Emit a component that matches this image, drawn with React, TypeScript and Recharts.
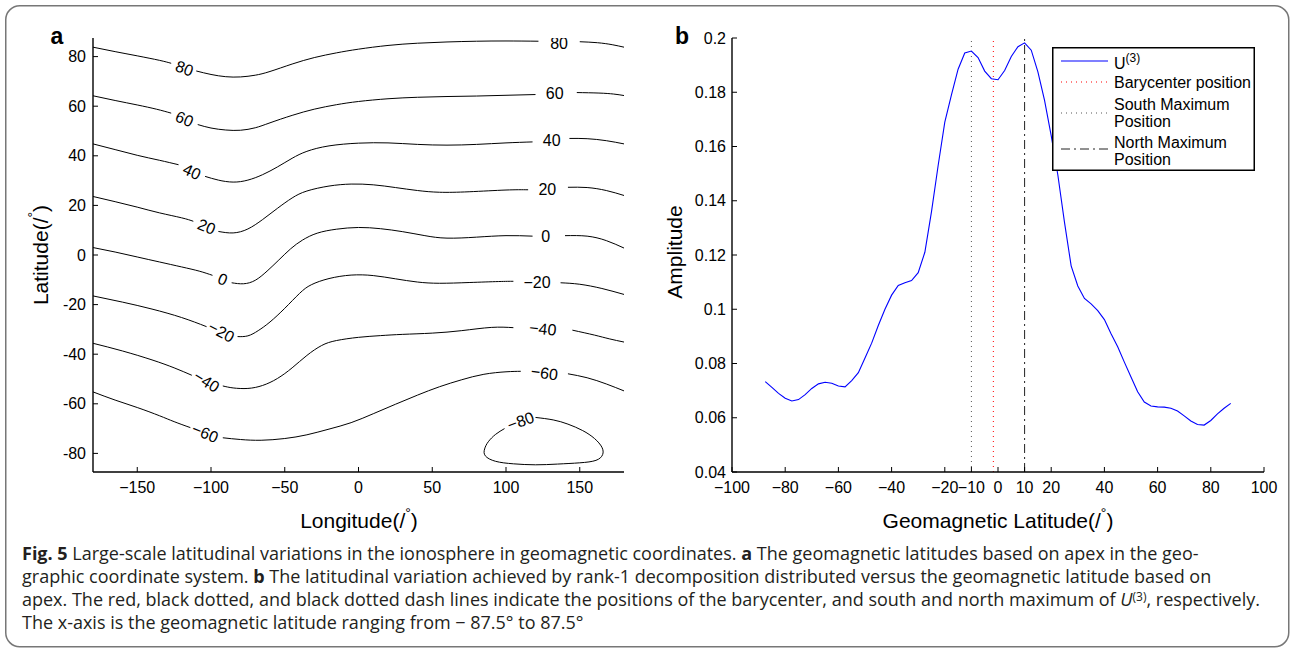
import React from "react";
import {
  ComposedChart, LineChart, Line, Scatter, XAxis, YAxis, ReferenceLine, Legend
} from "recharts";

const FONT = '"Liberation Sans", Arial, Helvetica, sans-serif';
const CAPTION_FONT = '"Open Sans", "Noto Sans", sans-serif';

// ---- panel a: apex geomagnetic latitude contours (lon, lat); null = gap for the label
type Pt = [number, number | null];

const lonTicks = [-150, -100, -50, 0, 50, 100, 150];
const latTicks = [-80, -60, -40, -20, 0, 20, 40, 60, 80];

const contour80: Pt[] = [
  [-180, 83.8], [-165, 82], [-150, 80.3], [-135, 78.5], [-127, 77.3], [-118, null],
  [-110, 74.2], [-100, 72.8], [-90, 71.9], [-80, 71.8], [-70, 72.5], [-60, 74], [-45, 77],
  [-30, 79.6], [-15, 81.5], [0, 83], [20, 84.5], [40, 85.4], [60, 85.9], [80, 86.2],
  [100, 86.3], [122, 86.2], [136, null], [150, 86], [162, 85.6], [172, 84.8], [180, 83.8],
];
const contour60: Pt[] = [
  [-180, 64.2], [-165, 62.3], [-150, 60.5], [-137, 58.8], [-127, 57.2], [-118, null],
  [-109, 52.6], [-100, 51.2], [-90, 50.4], [-80, 50.3], [-70, 51.3], [-60, 53.3], [-45, 56.3],
  [-30, 58.8], [-15, 60.6], [0, 61.9], [20, 63], [40, 63.6], [60, 63.9], [80, 64.1],
  [100, 64.4], [120, 64.7], [133, null], [148, 65.5], [163, 65.3], [173, 64.9], [180, 64.3],
];
const contour40: Pt[] = [
  [-180, 44.8], [-165, 42.5], [-150, 40.2], [-135, 38.2], [-122, 36.4], [-113, null],
  [-104, 31.7], [-95, 30.2], [-85, 29.4], [-75, 30.2], [-65, 32.4], [-55, 35.5], [-45, 39],
  [-35, 41.8], [-20, 44], [0, 45.1], [20, 45.2], [40, 44.6], [60, 44.3], [80, 44.6],
  [100, 45.2], [118, 45.6], [131, null], [143, 47], [155, 46.9], [168, 46.1], [180, 44.8],
];
const contour20: Pt[] = [
  [-180, 23.6], [-165, 21.5], [-150, 19.3], [-135, 17], [-120, 15], [-112, 13.6], [-103, null],
  [-95, 9.5], [-85, 8.9], [-75, 10.5], [-65, 14.3], [-55, 18.8], [-45, 23], [-35, 25.8],
  [-20, 27.8], [-5, 28.6], [10, 28.3], [25, 27.2], [40, 26], [55, 25.3], [75, 25.5],
  [100, 26.2], [115, 26.3], [128, null], [142, 27.3], [155, 27.2], [168, 26], [180, 24],
];
const contour0: Pt[] = [
  [-180, 3], [-165, 1.2], [-150, -0.8], [-135, -2.8], [-120, -4.8], [-108, -6.5], [-99, -8.2],
  [-92, null], [-86, -11.2], [-78, -11.6], [-70, -10.2], [-62, -6.5], [-54, -2], [-46, 2.5],
  [-38, 6], [-28, 8.8], [-15, 10.4], [0, 11.1], [15, 10.6], [30, 9.4], [45, 7.8], [60, 6.8],
  [80, 7.2], [100, 7.8], [118, 7.6], [127, null], [140, 7.8], [155, 7.6], [168, 5.8], [180, 2.8],
];
const contourM20: Pt[] = [
  [-180, -16.5], [-160, -19], [-140, -21.8], [-120, -25.2], [-103, -28.9], [-93, null],
  [-82, -32.9], [-75, -32.6], [-68, -30.5], [-60, -27], [-50, -21.5], [-40, -15.5], [-32, -12],
  [-20, -9.5], [-5, -8.1], [10, -8.3], [25, -9.6], [40, -10.9], [55, -11.4], [75, -11.1],
  [95, -10.7], [105, -10.6], [121, null], [137, -11.2], [150, -11.8], [165, -13.5], [180, -15.9],
];
const contourM40: Pt[] = [
  [-180, -35.6], [-160, -38.7], [-140, -42.3], [-125, -45.5], [-113, -48.5], [-103, null],
  [-92, -52.8], [-85, -53.6], [-75, -53.8], [-65, -52.6], [-55, -49.8], [-45, -45.5],
  [-35, -40.5], [-25, -36.5], [-15, -34.5], [0, -33.2], [15, -32.5], [30, -32], [50, -31.5],
  [70, -30.5], [90, -29.2], [105, -29.3], [125, null], [145, -30.3], [160, -32.3], [170, -33.8],
  [180, -35.1],
];
const contourM60: Pt[] = [
  [-180, -55.2], [-165, -58.5], [-150, -61.5], [-135, -64.8], [-125, -67.2], [-114, -69.6],
  [-104, null], [-92, -73.7], [-80, -74.4], [-66, -74.7], [-50, -74], [-35, -72.5], [-20, -70.2],
  [-5, -67.6], [10, -64], [25, -60.2], [40, -56.5], [55, -53.1], [70, -50.3], [85, -48.1],
  [100, -47.1], [110, -46.9], [126, null], [142, -47.9], [155, -49.5], [168, -52], [180, -54.8],
];
// closed loop south of Australia, drawn clockwise from just right of its label
const contourM80: Pt[] = [
  [120, -65.5], [132, -66.5], [142, -68.2], [152, -70.8], [160, -74], [165, -77.5],
  [165.5, -80.5], [161, -82.8], [150, -83.8], [135, -84.3], [120, -84.6], [105, -84.2],
  [93, -83.2], [86, -81], [85.5, -78.2], [88, -75.3], [93, -72.3], [99, -70],
];

const contours = [contour80, contour60, contour40, contour20, contour0,
  contourM20, contourM40, contourM60, contourM80];

const contourLabels = [
  { x: -118, y: 75.2, text: "80", angle: 20 }, { x: 136, y: 85.2, text: "80", angle: 0 },
  { x: -118, y: 54.8, text: "60", angle: 24 }, { x: 133, y: 65.2, text: "60", angle: 0 },
  { x: -113, y: 33.6, text: "40", angle: 25 }, { x: 131, y: 46, text: "40", angle: 0 },
  { x: -103, y: 11.4, text: "20", angle: 22 }, { x: 128, y: 26.6, text: "20", angle: 0 },
  { x: -92, y: -9.8, text: "0", angle: 22 }, { x: 127, y: 7.4, text: "0", angle: 0 },
  { x: -93, y: -31, text: "\u221220", angle: 28 }, { x: 121, y: -11.2, text: "\u221220", angle: 0 },
  { x: -103, y: -51, text: "\u221240", angle: 32 }, { x: 125, y: -29.8, text: "\u221240", angle: 6 },
  { x: -104, y: -71.8, text: "\u221260", angle: 22 }, { x: 126, y: -47.6, text: "\u221260", angle: 8 },
  { x: 110, y: -67, text: "\u221280", angle: -20 },
];

// ---- panel b: U(3) amplitude vs geomagnetic latitude
const geoLat = [
  -87.5, -85, -82.5, -80, -77.5, -75, -72.5, -70, -67.5, -65, -62.5, -60, -57.5, -55, -52.5, -50,
  -47.5, -45, -42.5, -40, -37.5, -35, -32.5, -30, -27.5, -25, -22.5, -20, -17.5, -15, -12.5, -10,
  -7.5, -5, -2.5, 0, 2.5, 5, 7.5, 10, 12.5, 15, 17.5, 20, 22.5, 25, 27.5, 30, 32.5, 35, 37.5, 40,
  42.5, 45, 47.5, 50, 52.5, 55, 57.5, 60, 62.5, 65, 67.5, 70, 72.5, 75, 77.5, 80, 82.5, 85, 87.5,
];
const amplitude = [
  0.0733, 0.0712, 0.069, 0.0672, 0.0662, 0.0667, 0.0685, 0.0708, 0.0725, 0.0731, 0.0727, 0.0717,
  0.0714, 0.0737, 0.0766, 0.082, 0.0875, 0.094, 0.1, 0.1052, 0.1088, 0.1098, 0.1106, 0.1135,
  0.121, 0.136, 0.153, 0.169, 0.179, 0.1885, 0.1945, 0.1952, 0.1928, 0.1878, 0.185, 0.1846,
  0.188, 0.1932, 0.1968, 0.1982, 0.1955, 0.1875, 0.177, 0.164, 0.1495, 0.132, 0.116, 0.1086,
  0.104, 0.102, 0.0995, 0.0962, 0.091, 0.0862, 0.0805, 0.075, 0.0696, 0.0658, 0.0643, 0.064,
  0.0639, 0.0635, 0.0625, 0.0607, 0.0588, 0.0575, 0.0573, 0.059, 0.0614, 0.0635, 0.0653,
];
const geoTicks = [-100, -80, -60, -40, -20, -10, 0, 10, 20, 40, 60, 80, 100];
const ampTicks = [0.04, 0.06, 0.08, 0.1, 0.12, 0.14, 0.16, 0.18, 0.2];
const southMax = -10;
const barycenter = -1.75;
const northMax = 10;

const rowsB = geoLat.map((lat, i) => ({ lat, amp: amplitude[i] }));

const minus = (v: number) => String(v).replace("-", "\u2212");
const axisLine = { stroke: "#000", strokeWidth: 1.4 };
const tickLine = { stroke: "#000", strokeWidth: 1 };
const tickFont = { fontSize: 16, fill: "#000", fontFamily: FONT };

function ContourLabel(props: any) {
  const { cx, cy, payload } = props;
  if (cx == null || cy == null) return null;
  return (
    <text x={cx} y={cy} transform={`rotate(${payload.angle} ${cx} ${cy})`}
      textAnchor="middle" dominantBaseline="central"
      fontFamily={FONT} fontSize={16} fill="#000">
      {payload.text}
    </text>
  );
}

function PanelA() {
  return (
    <ComposedChart width={640} height={540} margin={{ top: 38, right: 16, bottom: 38, left: 43 }}>
      <XAxis xAxisId="b" type="number" dataKey="x" domain={[-180, 180]} ticks={lonTicks}
        interval={0} allowDataOverflow tickSize={-5} tickMargin={15} height={30}
        tickFormatter={minus} tick={tickFont} axisLine={axisLine} tickLine={tickLine} />
      <XAxis xAxisId="t" orientation="top" type="number" domain={[-180, 180]} ticks={lonTicks}
        interval={0} allowDataOverflow tickSize={-5} height={0} tick={false}
        axisLine={axisLine} tickLine={tickLine} />
      <YAxis yAxisId="l" type="number" dataKey="y" domain={[-87.5, 87.5]} ticks={latTicks}
        interval={0} allowDataOverflow tickSize={-5} tickMargin={12} width={50}
        tick={tickFont} axisLine={axisLine} tickLine={tickLine} />
      <YAxis yAxisId="r" orientation="right" type="number" domain={[-87.5, 87.5]} ticks={latTicks}
        interval={0} allowDataOverflow tickSize={-5} width={0} tick={false}
        axisLine={axisLine} tickLine={tickLine} />
      {contours.map((c, i) => (
        <Line key={i} xAxisId="b" yAxisId="l"
          data={c.map(([x, y]) => ({ x, y }))} dataKey="y" type="natural"
          stroke="#000" strokeWidth={1} dot={false} activeDot={false}
          connectNulls={false} isAnimationActive={false} />
      ))}
      <Scatter xAxisId="b" yAxisId="l" data={contourLabels} dataKey="y"
        shape={<ContourLabel />} isAnimationActive={false} />
    </ComposedChart>
  );
}

function LegendBox() {
  const t = { fontFamily: FONT, fontSize: 16, fill: "#000" };
  return (
    <svg width={203} height={124} style={{ display: "block" }}>
      <rect x={0.75} y={0.75} width={201.5} height={122.5} fill="#fff" stroke="#000" strokeWidth={1.5} />
      <line x1={9} x2={56} y1={14} y2={14} stroke="#0000ff" strokeWidth={1.2} />
      <text x={62} y={22} {...t}>U<tspan dy={-7} fontSize={12}>(3)</tspan></text>
      <line x1={9} x2={56} y1={35} y2={35} stroke="#ff0000" strokeWidth={1} strokeDasharray="1 4" />
      <text x={62} y={41} {...t}>Barycenter position</text>
      <line x1={9} x2={56} y1={66} y2={66} stroke="#555" strokeWidth={1} strokeDasharray="1 4" />
      <text x={62} y={63} {...t}>South Maximum</text>
      <text x={62} y={80} {...t}>Position</text>
      <line x1={9} x2={56} y1={102} y2={102} stroke="#222" strokeWidth={1} strokeDasharray="9 4 2 4" />
      <text x={62} y={101} {...t}>North Maximum</text>
      <text x={62} y={118} {...t}>Position</text>
    </svg>
  );
}

function PanelB() {
  return (
    <LineChart width={630} height={540} data={rowsB} margin={{ top: 38, right: 16, bottom: 38, left: 32 }}>
      <XAxis xAxisId="b" type="number" dataKey="lat" domain={[-100, 100]} ticks={geoTicks}
        interval={0} allowDataOverflow tickSize={-5} tickMargin={15} height={30}
        tickFormatter={minus} tick={tickFont} axisLine={axisLine} tickLine={tickLine} />
      <XAxis xAxisId="t" orientation="top" type="number" domain={[-100, 100]} ticks={geoTicks}
        interval={0} allowDataOverflow tickSize={-5} height={0} tick={false}
        axisLine={axisLine} tickLine={tickLine} />
      <YAxis yAxisId="l" type="number" domain={[0.04, 0.2]} ticks={ampTicks}
        interval={0} allowDataOverflow tickSize={-5} tickMargin={11} width={50}
        tickFormatter={(v: number) => String(+v.toFixed(2))}
        tick={tickFont} axisLine={axisLine} tickLine={tickLine} />
      <YAxis yAxisId="r" orientation="right" type="number" domain={[0.04, 0.2]} ticks={ampTicks}
        interval={0} allowDataOverflow tickSize={-5} width={0} tick={false}
        axisLine={axisLine} tickLine={tickLine} />
      <ReferenceLine xAxisId="b" yAxisId="l" x={southMax} stroke="#555" strokeDasharray="1 4" />
      <ReferenceLine xAxisId="b" yAxisId="l" x={barycenter} stroke="#ff0000" strokeDasharray="1 4" />
      <ReferenceLine xAxisId="b" yAxisId="l" x={northMax} stroke="#222" strokeDasharray="9 4 2 4" />
      <Line xAxisId="b" yAxisId="l" dataKey="amp" type="linear" stroke="#0000ff" strokeWidth={1.1}
        dot={false} activeDot={false} isAnimationActive={false} />
      <Legend layout="horizontal" verticalAlign="middle" align="center" content={<LegendBox />}
        wrapperStyle={{ left: 402, top: 47, width: 203, height: 124 }} />
    </LineChart>
  );
}

function Overlay() {
  const title = { fontFamily: FONT, fontSize: 21, fill: "#000" };
  const cap = { fontFamily: CAPTION_FONT, fontSize: 18, fill: "#231f20" };
  return (
    <svg width={1291} height={650} style={{ position: "absolute", left: 0, top: 0, pointerEvents: "none" }}>
      <rect x={5.75} y={5.75} width={1283} height={641} rx={14} fill="none" stroke="#777" strokeWidth={1.5} />
      <text x={57} y={44} textAnchor="middle" fontFamily={FONT} fontSize={23} fontWeight="bold">a</text>
      <text x={682} y={44} textAnchor="middle" fontFamily={FONT} fontSize={23} fontWeight="bold">b</text>
      <text x={359} y={528} textAnchor="middle" {...title}>
        Longitude(/<tspan dy={-10} fontSize={14}>°</tspan><tspan dy={10}>)</tspan>
      </text>
      <text x={998} y={528} textAnchor="middle" {...title}>
        Geomagnetic Latitude(/<tspan dy={-10} fontSize={14}>°</tspan><tspan dy={10}>)</tspan>
      </text>
      <text transform="translate(48 255) rotate(-90)" textAnchor="middle" {...title}>
        Latitude(/<tspan dy={-10} fontSize={14}>°</tspan><tspan dy={10}>)</tspan>
      </text>
      <text transform="translate(682 252) rotate(-90)" textAnchor="middle" {...title}>Amplitude</text>
      <text x={22} y={560} {...cap}>
        <tspan fontWeight="bold">Fig. 5</tspan>{"  Large-scale latitudinal variations in the ionosphere in geomagnetic coordinates. "}
        <tspan fontWeight="bold">a</tspan>{" The geomagnetic latitudes based on apex in the geo-"}
      </text>
      <text x={22} y={583} {...cap}>
        {"graphic coordinate system. "}<tspan fontWeight="bold">b</tspan>
        {" The latitudinal variation achieved by rank-1 decomposition distributed versus the geomagnetic latitude based on"}
      </text>
      <text x={22} y={606} {...cap}>
        {"apex. The red, black dotted, and black dotted dash lines indicate the positions of the barycenter, and south and north maximum of "}
        <tspan fontStyle="italic">U</tspan><tspan dy={-5} fontSize={12}>(3)</tspan><tspan dy={5}>, respectively.</tspan>
      </text>
      <text x={22} y={629} {...cap}>
        {"The x-axis is the geomagnetic latitude ranging from \u2212 87.5° to 87.5°"}
      </text>
    </svg>
  );
}

export default function App() {
  return (
    <div style={{ position: "absolute", left: 0, top: 0, width: 1291, height: 650, background: "#fff", overflow: "hidden" }}>
      <div style={{ position: "absolute", left: 0, top: 0 }}>
        <PanelA />
      </div>
      <div style={{ position: "absolute", left: 650, top: 0 }}>
        <PanelB />
      </div>
      <Overlay />
    </div>
  );
}
